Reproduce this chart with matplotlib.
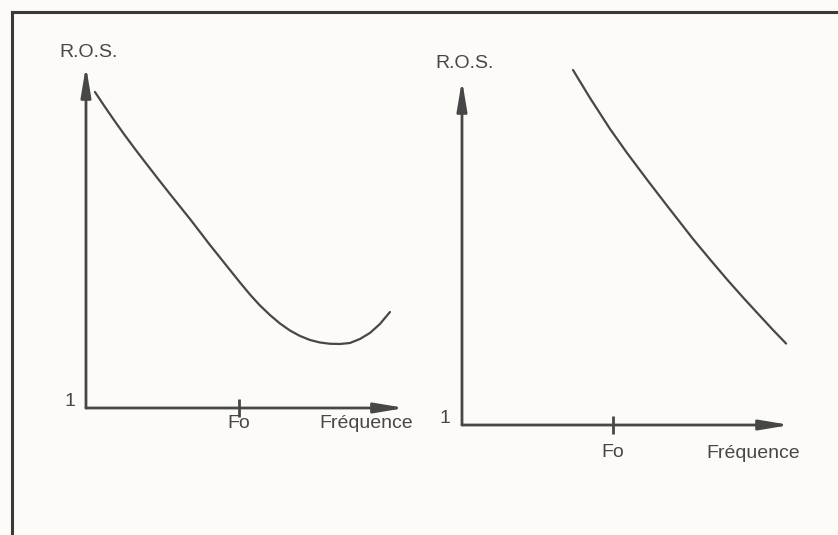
import numpy as np
import matplotlib.pyplot as plt
from matplotlib.lines import Line2D

plt.rcParams['font.family'] = ['Liberation Sans', 'DejaVu Sans']

# VSWR (R.O.S.) against frequency, arbitrary units, Fo = 5
fo = 5.0

# left panel: resonance above Fo, curve has a minimum
freq_left = [0.294, 0.621, 0.948, 1.275, 1.602, 1.929, 2.321, 2.746, 3.400, 4.054,
             4.707, 5.034, 5.361, 5.688, 6.015, 6.342, 6.669, 6.996, 7.323, 7.649,
             7.976, 8.303, 8.630, 8.957, 9.284, 9.611, 9.938]
ros_left = [4.773, 4.594, 4.421, 4.254, 4.093, 3.937, 3.752, 3.555, 3.257, 2.946,
            2.648, 2.499, 2.355, 2.224, 2.110, 2.009, 1.925, 1.860, 1.812, 1.782,
            1.767, 1.764, 1.776, 1.824, 1.896, 2.003, 2.146]

# right panel: resonance well outside the band, curve keeps falling
freq_right = [3.676, 4.239, 4.902, 5.465, 6.160, 6.823, 7.651, 8.214, 8.777, 9.307,
              9.870, 10.300, 10.731]
ros_right = [5.201, 4.870, 4.503, 4.219, 3.888, 3.580, 3.201, 2.959, 2.722, 2.509,
             2.290, 2.124, 1.964]

ink = '#474747'
paper = '#fcfbf7'

fig = plt.figure(figsize=(8.38, 5.35), dpi=100, facecolor=paper)

# page frame (top and left edges of the box)
fig.add_artist(Line2D([0.0145, 0.0145], [0.0, 0.977], color='#3a3a3a', lw=2.2))
fig.add_artist(Line2D([0.0145, 1.0], [0.977, 0.977], color='#3a3a3a', lw=2.2))


def draw_panel(rect, xmax, freq, ros, fo_off, freq_off, one_off, ros_off):
    ax = fig.add_axes(rect)
    ax.set_xlim(0, xmax)
    ax.set_ylim(1, 5)
    ax.axis('off')

    # the head of '-|>' stops a little short, so push the tips out a bit
    w_px = rect[2] * 838
    h_px = rect[3] * 535
    arrow = dict(arrowstyle='-|>,head_length=1.8,head_width=0.3',
                 lw=2.0, color=ink, shrinkA=0, shrinkB=0)
    ax.annotate('', xy=(0, 1 + 7 / h_px), xytext=(0, 0), xycoords='axes fraction',
                arrowprops=arrow, annotation_clip=False)
    ax.annotate('', xy=(1 + 7 / w_px, 0), xytext=(0, 0), xycoords='axes fraction',
                arrowprops=arrow, annotation_clip=False)

    # Fo mark on the frequency axis
    ax.plot([fo], [1], marker='|', markersize=13, mew=2.0, color=ink, clip_on=False)

    ax.plot(freq, ros, color=ink, lw=1.6, solid_joinstyle='round',
            solid_capstyle='round', clip_on=False)

    txt = dict(fontsize=14, color=ink, ha='center', va='center', annotation_clip=False)
    ax.annotate('Fo', xy=(fo, 1), xytext=(0, fo_off), textcoords='offset points', **txt)
    ax.annotate('Fréquence', xy=(1, 0), xycoords='axes fraction',
                xytext=freq_off, textcoords='offset points', **txt)
    ax.annotate('1', xy=(0, 0), xycoords='axes fraction',
                xytext=one_off, textcoords='offset points', **txt)
    ax.annotate('R.O.S.', xy=(0, 1), xycoords='axes fraction',
                xytext=ros_off, textcoords='offset points', **txt)
    return ax


draw_panel([0.1026, 0.2374, 0.3723, 0.6262], 10.2, freq_left, ros_left,
           fo_off=-11, freq_off=(-23, -11), one_off=(-11.5, 4.5), ros_off=(2, 14.5))
draw_panel([0.5513, 0.2056, 0.3831, 0.6318], 10.63, freq_right, ros_right,
           fo_off=-19.5, freq_off=(-21.5, -20.5), one_off=(-12, 5), ros_off=(2, 17))

fig.savefig('out.png', dpi=100, facecolor=paper)
